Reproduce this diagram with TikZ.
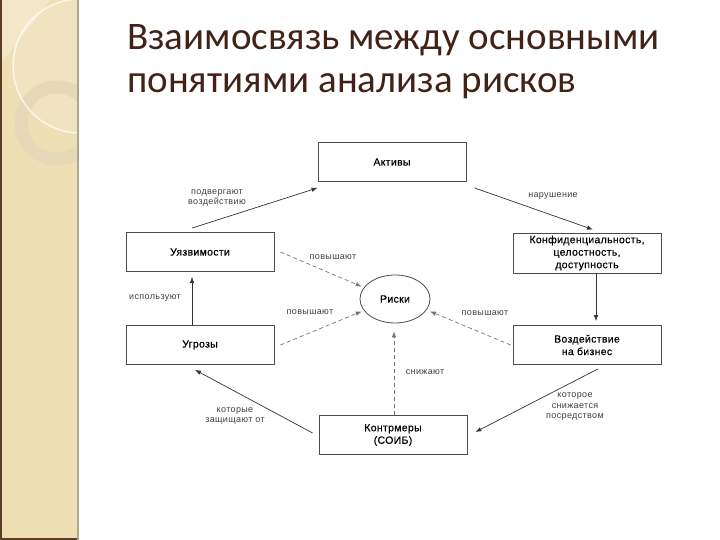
\documentclass[tikz,border=0pt]{standalone}
\usepackage{fontspec}
\setmainfont{Liberation Sans}
\newfontfamily\titlefont{Carlito}
\usetikzlibrary{positioning,arrows.meta,shapes.geometric}
\definecolor{sideband}{RGB}{238,223,180}
\definecolor{sideedge}{RGB}{92,62,40}
\definecolor{sidering}{RGB}{229,217,184}
\definecolor{titlebrown}{RGB}{66,34,22}
\tikzset{
  flowarrow/.style={-{Latex[length=6pt,width=4.5pt]}, draw=black!80, line width=0.7pt},
  riskarrow/.style={-{Latex[length=6pt,width=4.5pt]}, draw=black!55, line width=0.7pt, dash pattern=on 4pt off 3pt},
  conceptbox/.style={draw=black!70, line width=0.8pt, fill=white, minimum width=148pt, minimum height=39pt, align=center, inner sep=2pt, font=\fontsize{10.5}{12.5}\selectfont\addfontfeatures{LetterSpace=3,FakeBold=0.4}},
  riskoval/.style={draw=black!70, line width=0.8pt, ellipse, minimum width=70pt, minimum height=48pt, inner sep=1pt, font=\fontsize{10.5}{12.5}\selectfont\addfontfeatures{LetterSpace=3,FakeBold=0.4}},
  relabel/.style={font=\fontsize{9}{10.5}\selectfont\addfontfeatures{LetterSpace=4}, text=black!75, align=center, inner sep=1pt},
  slidetitle/.style={anchor=base west, inner sep=0pt, text=titlebrown, font=\titlefont\fontsize{39}{46}\selectfont}
}
\begin{document}
\begin{tikzpicture}[x=1pt, y=1pt, >=Latex]
  \useasboundingbox (0,0) rectangle (720,540);
  % side band of the slide
  \fill[sideband] (0,0) rectangle (78,540);
  \begin{scope}
    \clip (0,0) rectangle (78,540);
    \fill[white, opacity=0.25] (0,540) -- (0,477) -- (20,500) -- (50,540) -- cycle;
    \fill[white, opacity=0.15] (80,474) circle (67);
    \draw[sidering, line width=13pt] (57,417) circle (36);
    \draw[white, opacity=0.7, line width=1.5pt] (80,474) circle (67);
  \end{scope}
  \fill[sideedge] (0,0) rectangle (2,540);
  \fill[sideedge] (0,0) rectangle (78,2);
  \draw[black!25!sideband, line width=1.5pt] (78,0) -- (78,540);

  \node[slidetitle] (title) at (127,490) {Взаимосвязь между основными};
  \node[slidetitle] (title2) at (127,447) {понятиями анализа рисков};

  \node[conceptbox] (assets) at (392,378) {Активы};
  \node[conceptbox] (vuln) at (200,288) {Уязвимости};
  \node[conceptbox, minimum height=40pt] (cia) at (587,287) {Конфиденциальность,\\целостность,\\доступность};
  \node[riskoval] (risks) at (395,241) {Риски};
  \node[conceptbox] (threats) at (200,195) {Угрозы};
  \node[conceptbox] (impact) at (587,195) {Воздействие\\на бизнес};
  \node[conceptbox] (counter) at (393,105) {Контрмеры\\(СОИБ)};

  \draw[flowarrow] ([shift={(-8,4)}]vuln.north) -- ([shift={(0,-6)}]assets.south west);
  \draw[flowarrow] ([shift={(8,-6)}]assets.south east) -- ([shift={(6,3)}]cia.north);
  \draw[flowarrow] ([xshift=9pt]cia.south) -- ([shift={(9,4)}]impact.north);
  \draw[flowarrow] ([shift={(11,-4)}]impact.south) -- ([shift={(8,3)}]counter.east);
  \draw[flowarrow] ([shift={(-6,2)}]counter.west) -- ([shift={(-5,-5)}]threats.south);
  \draw[flowarrow] ([xshift=-8pt]threats.north) -- ([shift={(-8,-5)}]vuln.south);

  \draw[riskarrow] ([xshift=6pt]vuln.east) -- ([shift={(-2,1)}]risks.160);
  \draw[riskarrow] ([xshift=6pt]threats.east) -- ([shift={(-2,-1)}]risks.200);
  \draw[riskarrow] ([xshift=-2pt]impact.west) -- ([shift={(3,-2)}]risks.-18);
  \draw[riskarrow, shorten >=8pt] ([xshift=1pt]counter.north) -- ([xshift=-1pt]risks.south);

  \node[relabel] (l1) at (217,342) {подвергают\\воздействию};
  \node[relabel] (l2) at (553,344) {нарушение};
  \node[relabel] (l3) at (155,242) {используют};
  \node[relabel] (l4) at (333,283) {повышают};
  \node[relabel] (l5) at (310,228) {повышают};
  \node[relabel] (l6) at (485,227) {повышают};
  \node[relabel] (l7) at (425,168) {снижают};
  \node[relabel] (l8) at (235,124) {которые\\защищают от};
  \node[relabel] (l9) at (575,133) {которое\\снижается\\посредством};
\end{tikzpicture}
\end{document}
